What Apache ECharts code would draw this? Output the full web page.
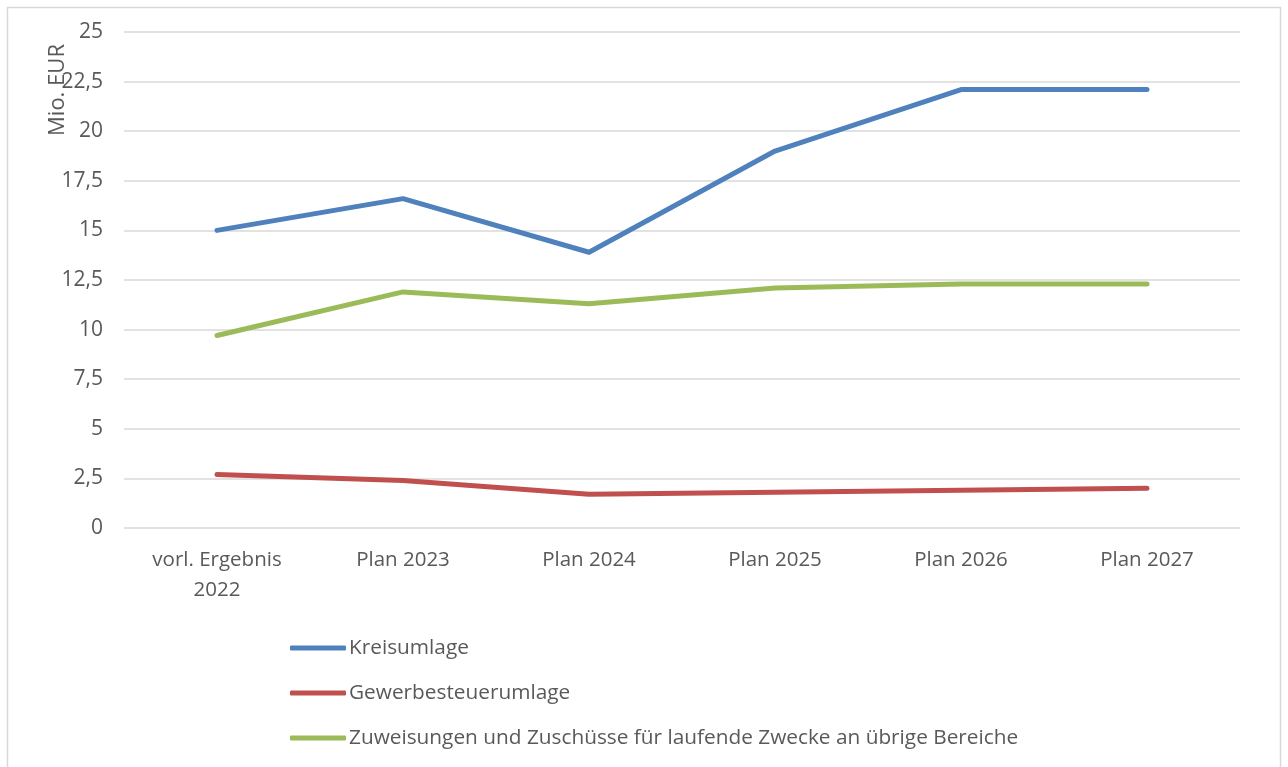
<!DOCTYPE html>
<html><head><meta charset="utf-8">
<script src="https://cdn.jsdelivr.net/npm/echarts@6/dist/echarts.min.js"></script>
<style>html,body{margin:0;padding:0;background:#fff}#c{width:1288px;height:767px}</style>
</head><body><div id="c"></div>
<script>
const categories = ['vorl. Ergebnis\n2022', 'Plan 2023', 'Plan 2024', 'Plan 2025', 'Plan 2026', 'Plan 2027'];
const kreisumlage = [15.0, 16.6, 13.9, 19.0, 22.1, 22.1];
const gewerbesteuerumlage = [2.7, 2.4, 1.7, 1.8, 1.9, 2.0];
const zuweisungen = [9.7, 11.9, 11.3, 12.1, 12.3, 12.3];
const seriesNames = ['Kreisumlage', 'Gewerbesteuerumlage', 'Zuweisungen und Zuschüsse für laufende Zwecke an übrige Bereiche'];
const colors = ['#4F81BD', '#C0504D', '#9BBB59'];
const FONT = 'Open Sans';

const chart = echarts.init(document.getElementById('c'), null, {renderer: 'canvas'});
const mk = (name, data, color) => ({
  name, type: 'line', data, symbol: 'none', color,
  lineStyle: {width: 5, color, cap: 'round', join: 'round'}
});
chart.setOption({
  animation: false,
  textStyle: {fontFamily: FONT},
  grid: {left: 124, right: 48, top: 32, bottom: 239, containLabel: false},
  xAxis: {
    type: 'category', data: categories, boundaryGap: true,
    axisLine: {show: false}, axisTick: {show: false},
    axisLabel: {color: '#595959', fontSize: 20.5, fontFamily: FONT, margin: 17, lineHeight: 30}
  },
  yAxis: {
    type: 'value', min: 0, max: 25, interval: 2.5,
    axisLine: {show: false}, axisTick: {show: false},
    splitLine: {lineStyle: {color: '#D9D9D9', width: 1.5}},
    axisLabel: {color: '#595959', fontSize: 21, fontFamily: FONT, margin: 21,
      formatter: v => String(v).replace('.', ',')}
  },
  legend: {
    orient: 'vertical', left: 285, top: 631, itemGap: 21,
    itemWidth: 56, itemHeight: 5,
    icon: 'roundRect',
    textStyle: {color: '#595959', fontSize: 20.8, fontFamily: FONT, lineHeight: 24, padding: [0, 0, 0, -2]},
    data: seriesNames
  },
  graphic: [
    {type: 'rect', shape: {x: 7.5, y: 7.5, width: 1273, height: 770}, style: {fill: 'none', stroke: '#D9D9D9', lineWidth: 1.5}, silent: true},
    {type: 'text', x: 58, y: 90, rotation: Math.PI / 2, style: {text: 'Mio. EUR', font: '22px "Open Sans"', fill: '#595959', textAlign: 'center', textVerticalAlign: 'middle'}}
  ],
  series: [
    mk(seriesNames[0], kreisumlage, colors[0]),
    mk(seriesNames[1], gewerbesteuerumlage, colors[1]),
    mk(seriesNames[2], zuweisungen, colors[2])
  ]
});
</script></body></html>
